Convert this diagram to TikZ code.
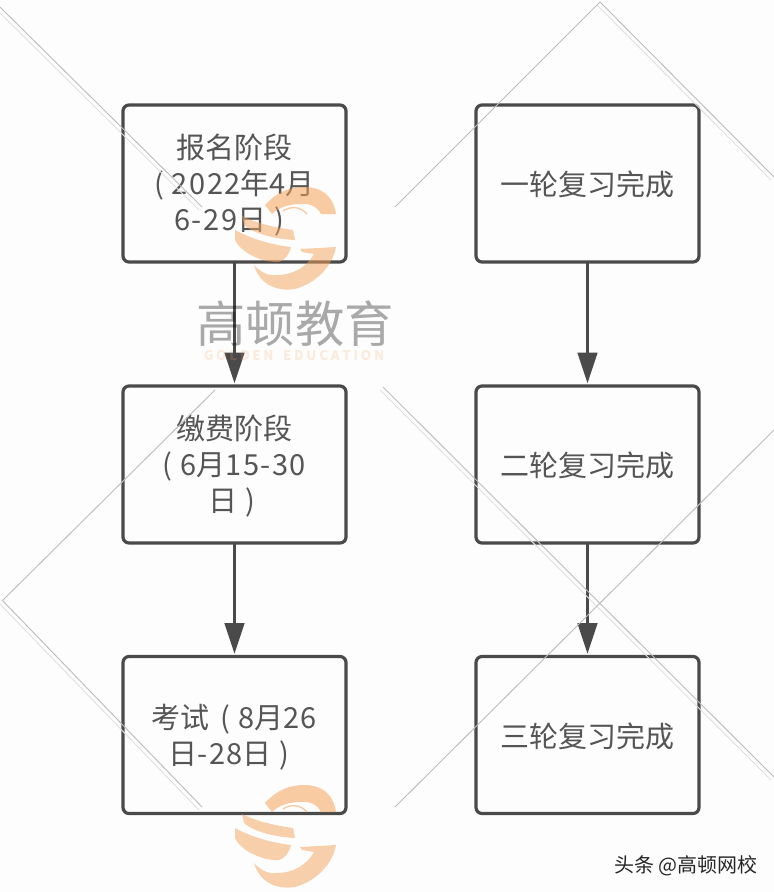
\documentclass[tikz,border=0pt]{standalone}
\usepackage{fontspec}
\setmainfont{Noto Sans CJK SC}
\usepackage{xcolor}
\usetikzlibrary{arrows.meta}
\definecolor{BInk}{HTML}{4A4A4A}
\definecolor{BText}{HTML}{555555}
\definecolor{BMark}{HTML}{F4A35A}
\definecolor{BLine}{HTML}{BDBDBD}
\definecolor{BPaper}{HTML}{FDFDFD}
\newcommand{\lp}{(\kern6pt}
\newcommand{\rp}{\kern6pt)}
\newcommand{\dg}[1]{{\addfontfeature{LetterSpace=5}#1}}
\newcommand{\stagepad}{\par\vspace{-3pt}}
\tikzset{
  logomark/.pic={
    \fill[BMark,opacity=0.55] (32,18) .. controls (45,4) and (58,0) .. (71,0)
      .. controls (88,0) and (100,8) .. (103,27) -- (88,27)
      .. controls (84,19) and (76,16) .. (67,17)
      .. controls (57,17) and (46,20) .. (39,27) -- cycle;
    \draw[BMark,opacity=0.55,line width=1pt] (50,24) .. controls (56,20) and (66,18) .. (74,27);
    \fill[BMark,opacity=0.5] (9,29) .. controls (25,37) and (45,41) .. (60,43)
      -- (62,53) .. controls (40,52) and (20,46) .. (11,38) -- cycle;
    \fill[BMark,opacity=0.5] (2,43) .. controls (18,52) and (40,58) .. (58,60)
      .. controls (56,68) and (52,73) .. (46,75)
      .. controls (30,76) and (8,66) .. (2,53) -- cycle;
    \fill[BMark,opacity=0.5] (67,62) -- (103,60)
      .. controls (100,78) and (84,96) .. (62,102)
      .. controls (42,105) and (26,96) .. (21,78)
      .. controls (28,86) and (36,89) .. (44,88)
      .. controls (60,88) and (74,80) .. (81,67) -- (69,65) -- cycle;
  }
}
\begin{document}
\begin{tikzpicture}[
  x=0.75pt,y=-0.75pt,
  every node/.style={font=\fontsize{21.75}{27}\selectfont,text=BText},
  stage/.style={draw=BInk,line width=2.4pt,rounded corners=4.5pt,inner sep=0pt,
    outer sep=0pt,minimum width=167.25pt,minimum height=117.75pt,text width=160pt,align=center,
    execute at end node=\stagepad},
  a/.style={-{Triangle[length=23pt,width=14.5pt]},line width=2.4pt,color=BInk,shorten >=2pt},
  wm/.style={draw=BLine,line width=0.7pt},
  wmlight/.style={draw=BLine!45,line width=0.7pt}
]
  \useasboundingbox[fill=BPaper] (0,0) rectangle (774,892);

  \node[stage] (signup) at (234.5,183.5) {报名阶段\\\lp\dg{2022}年4月\\\dg{6-29}日\rp\kern8pt};
  \node[stage] (pay) at (234.5,464.5) {缴费阶段\\\lp 6月\dg{15-30}\\日\rp\kern4pt};
  \node[stage] (exam) at (234.5,735) {考试\kern8pt\lp 8月\dg{26}\\日\dg{-28}日\rp\kern8pt};

  \node[stage] (roundone) at (587.5,183.5) {一轮复习完成};
  \node[stage] (roundtwo) at (587.5,464.5) {二轮复习完成};
  \node[stage] (roundthree) at (587.5,735) {三轮复习完成};

  \foreach \a/\b in {signup/pay,pay/exam,roundone/roundtwo,roundtwo/roundthree}
    {\draw[a] (\a) -- (\b);}

  % watermark
  \foreach \xa/\ya/\xb/\yb in {0/7/202/207,600/2/774/177,2/600/202/807,383/387/774/777}
    {\draw[wm] (\xa,\ya) -- (\xb,\yb);
     \draw[wmlight] (\xa-3,\ya+3) -- (\xb-3,\yb+3);}
  \foreach \xa/\ya/\xb/\yb in {600/2/395/207,215/390/3/600,774/430/395/807}
    {\draw[wm] (\xa,\ya) -- (\xb,\yb);}

  \pic at (233,187) {logomark};
  \pic at (233,785) {logomark};
  \node[font=\fontsize{37}{40}\selectfont,text=black,text opacity=0.33] (brand) at (295,324) {高顿教育};
  \node[font=\fontsize{10}{12}\selectfont\bfseries,text=BMark,text opacity=0.2] (brandsub) at (294,356)
    {G\kern2ptO\kern2ptL\kern2ptD\kern2ptE\kern2ptN\kern7ptE\kern2ptD\kern2ptU\kern2ptC\kern2ptA\kern2ptT\kern2ptI\kern2ptO\kern2ptN};
  \node[font=\fontsize{15}{18}\selectfont,text=black!85] (source) at (686,866) {头条 @高顿网校};
\end{tikzpicture}
\end{document}
